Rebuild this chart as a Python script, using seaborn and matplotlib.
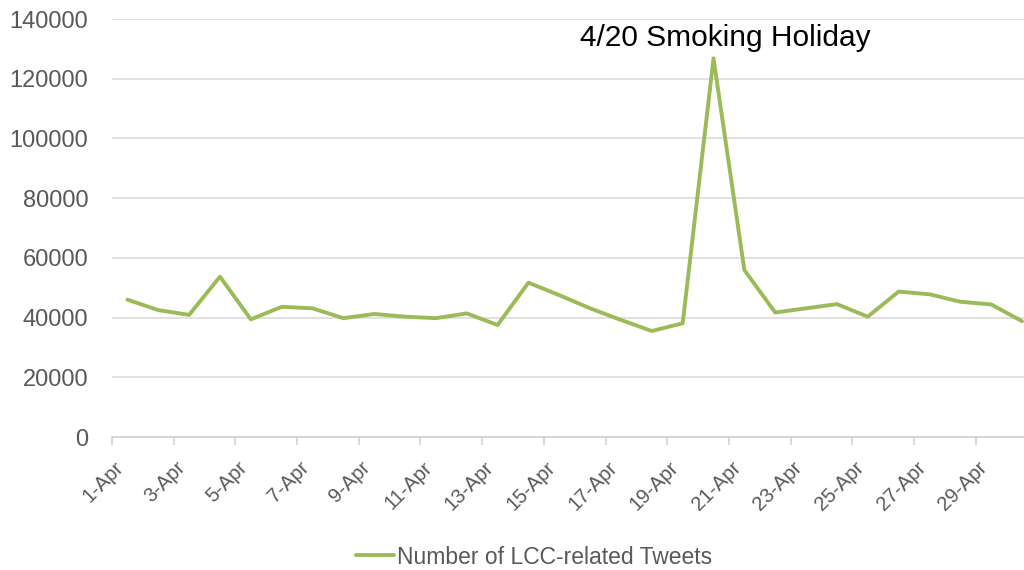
import matplotlib
matplotlib.use("Agg")
import matplotlib.pyplot as plt
import seaborn as sns
import pandas as pd
import numpy as np

# daily counts, 1-Apr .. 30-Apr
days = [f"{d}-Apr" for d in range(1, 31)]
tweets = [46000, 42500, 40900, 53700, 39400, 43600, 43100, 39800, 41200, 40300,
          39800, 41400, 37500, 51700, 47500, 43100, 39200, 35500, 38100, 126800,
          55900, 41700, 43100, 44500, 40300, 48700, 47800, 45300, 44400, 38800]
series_name = "Number of LCC-related Tweets"
note = "4/20 Smoking Holiday"
yticks = [0, 20000, 40000, 60000, 80000, 100000, 120000, 140000]

df = pd.DataFrame({"pos": np.arange(len(days)), "day": days, "tweets": tweets})

sns.set_theme(style="white")
plt.rcParams["font.family"] = ["Liberation Sans", "DejaVu Sans"]

fig = plt.figure(figsize=(10.24, 5.70), dpi=100)
ax = fig.add_axes([112 / 1024, 133 / 570, 1 - 112 / 1024, 418 / 570])

sns.lineplot(data=df, x="pos", y="tweets", ax=ax, color="#9BBB59",
             linewidth=2.8, label=series_name, legend=False)

ax.set_ylim(0, 140000)
ax.set_xlim(-0.5, 29.065)
ax.set_yticks(yticks)
ax.set_yticklabels([str(v) for v in yticks])
ax.yaxis.grid(True, color="#d9d9d9", linewidth=1.1)
ax.set_axisbelow(True)
for s in ["top", "right", "left"]:
    ax.spines[s].set_visible(False)
ax.spines["bottom"].set_color("#d0d0d0")
ax.spines["bottom"].set_linewidth(1.1)

# labels every other day, tick marks on category boundaries
ax.set_xticks(df["pos"][::2])
ax.set_xticklabels(df["day"][::2], rotation=45, ha="right", va="top")
ax.set_xticks(np.arange(-0.5, 29, 2), minor=True)
ax.tick_params(axis="x", which="major", length=0, pad=15, labelsize=14.5,
               labelcolor="#595959")
ax.tick_params(axis="x", which="minor", length=6, width=1.1, color="#d0d0d0",
               bottom=True)
ax.tick_params(axis="y", length=0, pad=17, labelsize=17, labelcolor="#595959")
ax.set_xlabel("")
ax.set_ylabel("")

ax.text(19.37, 133600, note, ha="center", va="center", fontsize=21.5,
        color="black")

handles, labels = ax.get_legend_handles_labels()
fig.legend(handles, labels, loc="center", bbox_to_anchor=(534 / 1024, 1 - 557 / 570),
           frameon=False, fontsize=16.5, labelcolor="#595959",
           handlelength=1.65, handletextpad=0.15)

fig.savefig("out.png", dpi=100)
